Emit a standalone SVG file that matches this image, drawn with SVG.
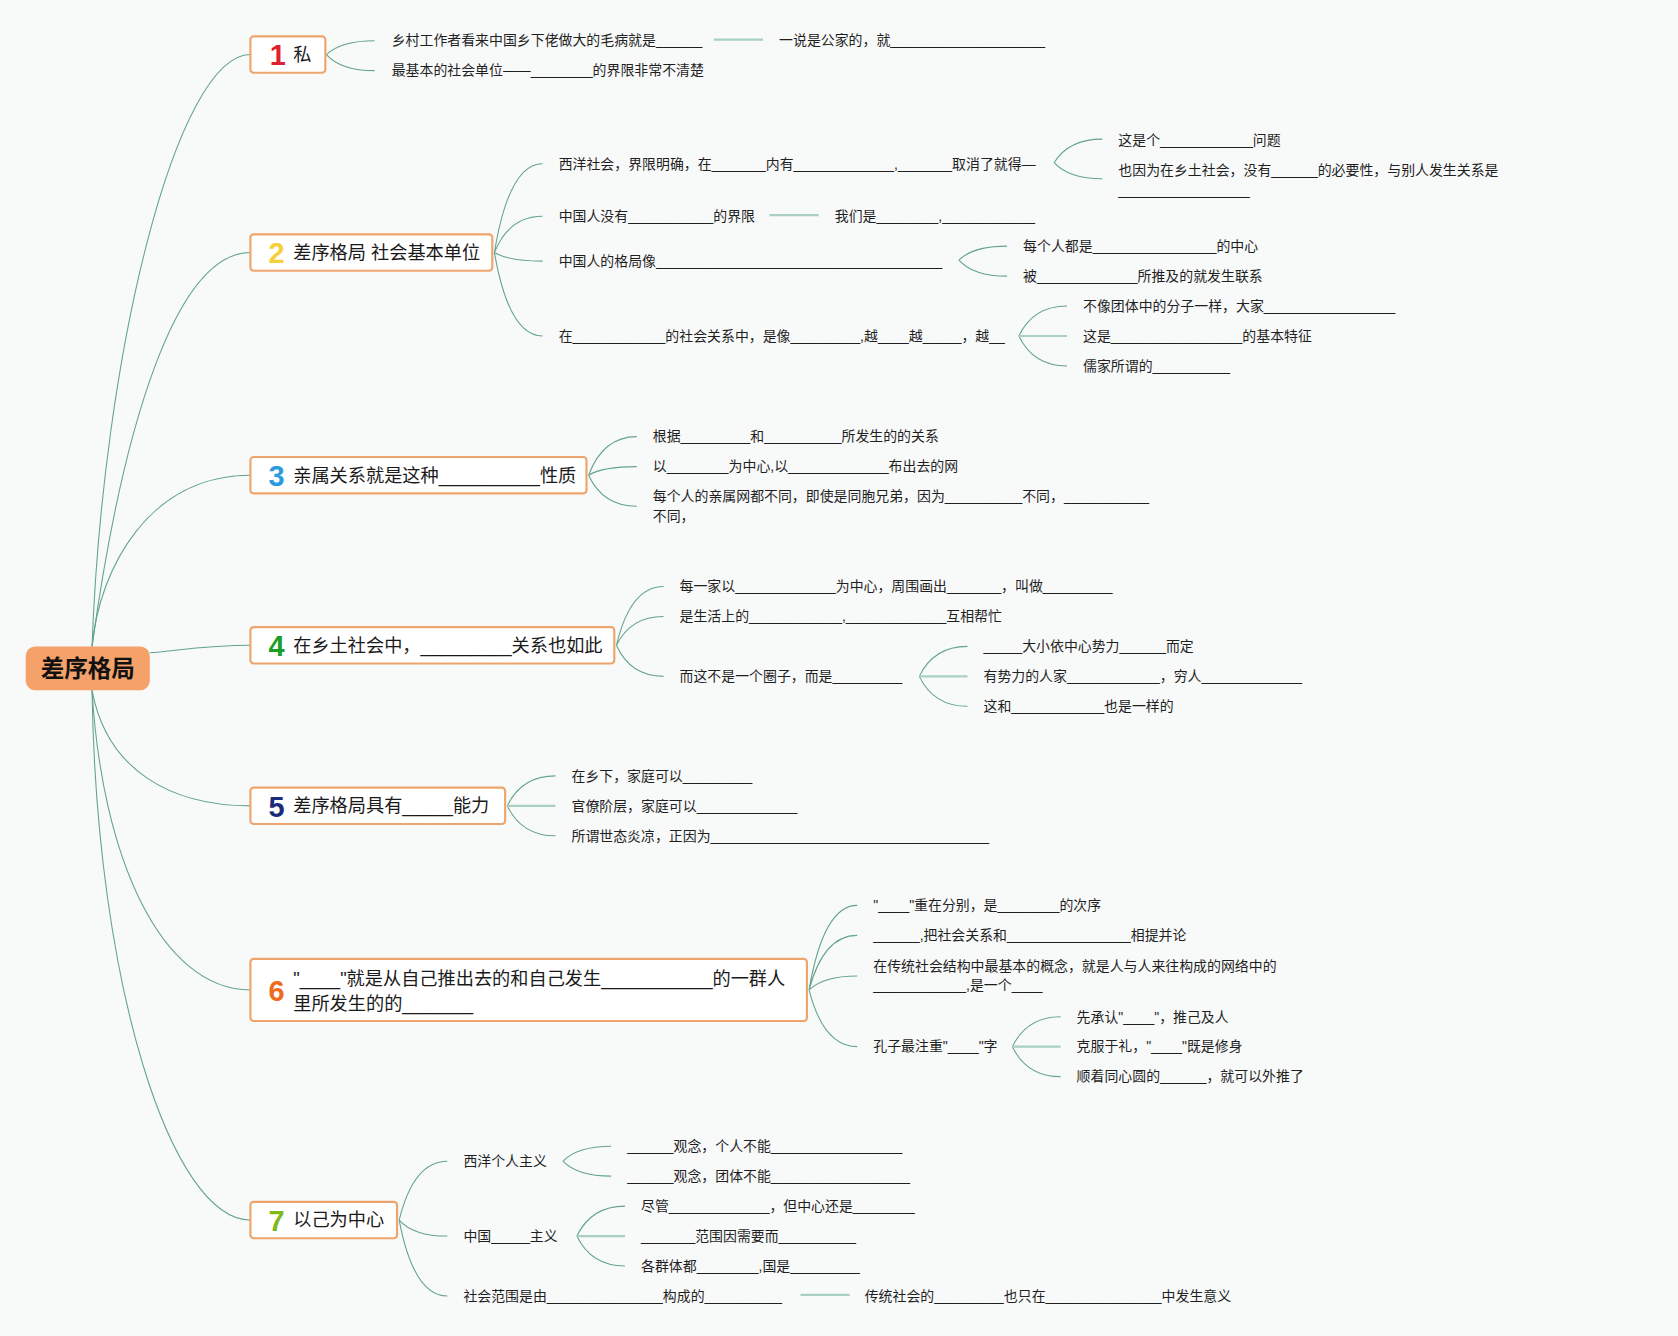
<svg xmlns="http://www.w3.org/2000/svg" width="1678" height="1336" viewBox="0 0 1678 1336">
<style>
.t{font-family:"Liberation Sans","Noto Sans CJK SC",sans-serif;font-size:13px;fill:#1f1f1f}
.h{font-family:"Liberation Sans","Noto Sans CJK SC",sans-serif;font-size:17px;fill:#1a1a1a}
.n{font-family:"Liberation Sans","Noto Sans CJK SC",sans-serif;font-weight:bold;font-size:27px}
.box{fill:#ffffff;stroke:#eea56d;stroke-width:2}
.c{fill:none;stroke:#62a48e;stroke-width:1}
.s{fill:none;stroke:#a9d0c2;stroke-width:2}
</style>
<rect width="1678" height="1336" fill="#f8f9f9"/>
<g transform="scale(1.0702)">
<g id="connectors">
<path class="c" d="M86,604 C96,330 165,51 234,51"/>
<path class="c" d="M86,604 C115,395 165,236 234,236"/>
<path class="c" d="M86,604 C93,530 140,444 234,444"/>
<path class="c" d="M140,610 C180,606 200,603 234,603"/>
<path class="c" d="M86,645 C100,720 160,753 234,753"/>
<path class="c" d="M86,645 C95,800 150,925 234,925"/>
<path class="c" d="M86,645 C90,920 160,1140 234,1140"/>
<path class="c" d="M305,51 Q318.5,38 350,38 M305,51 Q318.5,66 350,66"/>
<path class="s" d="M667,37 L713,37"/>
<path class="c" d="M462,236 Q475.5,153 507,153 M462,236 Q475.5,202 507,202 M462,236 Q475.5,244 507,244 M462,236 Q475.5,314 507,314"/>
<path class="c" d="M985,152 Q998.5,130 1030,130 M985,152 Q998.5,167 1030,167"/>
<path class="s" d="M719,201 L765,201"/>
<path class="c" d="M896,243 Q909.5,230 941,230 M896,243 Q909.5,258 941,258"/>
<path class="c" d="M952,314 Q965.5,286 997,286 M952,314 Q965.5,342 997,342"/>
<path class="s" d="M952,314 L997,314"/>
<path class="c" d="M550,444 Q563.5,408 595,408 M550,444 Q563.5,436 595,436 M550,444 Q563.5,473 595,473"/>
<path class="c" d="M576,603 Q589,548 620,548 M576,603 Q589,576 620,576 M576,603 Q589,632 620,632"/>
<path class="c" d="M859,632 Q872.5,604 904,604 M859,632 Q872.5,660 904,660"/>
<path class="s" d="M859,632 L904,632"/>
<path class="c" d="M474,753 Q487.5,725 519,725 M474,753 Q487.5,781 519,781"/>
<path class="s" d="M474,753 L519,753"/>
<path class="c" d="M756,925 Q769.5,846 801,846 M756,925 Q769.5,874 801,874 M756,925 Q769.5,912 801,912 M756,925 Q769.5,978 801,978"/>
<path class="c" d="M946,978 Q959.5,950 991,950 M946,978 Q959.5,1006 991,1006"/>
<path class="s" d="M946,978 L991,978"/>
<path class="c" d="M373,1140 Q386.5,1085 418,1085 M373,1140 Q386.5,1155 418,1155 M373,1140 Q386.5,1211 418,1211"/>
<path class="c" d="M526,1085 Q539.5,1071 571,1071 M526,1085 Q539.5,1099 571,1099"/>
<path class="c" d="M539,1155 Q552.5,1127 584,1127 M539,1155 Q552.5,1183 584,1183"/>
<path class="s" d="M539,1155 L584,1155"/>
<path class="s" d="M748,1210 L794,1210"/>
</g>
<g id="root">
<rect x="24" y="604" width="116" height="41" rx="9" fill="#f4a26a"/>
<text x="82" y="633" text-anchor="middle" style="font-family:'Liberation Sans','Noto Sans CJK SC',sans-serif;font-size:22px;font-weight:bold;fill:#111">差序格局</text>
</g>
<g id="n1">
<rect class="box" x="234" y="34" width="70" height="34" rx="3"/>
<text class="n" x="252" y="61" fill="#e0202f">1</text>
<text class="h" x="274" y="57">私</text>
</g>
<g id="n1-items">
<text class="t" x="366" y="42.5">乡村工作者看来中国乡下佬做大的毛病就是______</text>
<text class="t" x="728" y="42.5">一说是公家的，就____________________</text>
<text class="t" x="366" y="70.5">最基本的社会单位——________的界限非常不清楚</text>
</g>
<g id="n2">
<rect class="box" x="234" y="219" width="226" height="34" rx="3"/>
<text class="n" x="251" y="246" fill="#f6cf3a">2</text>
<text class="h" x="274" y="242">差序格局 社会基本单位</text>
</g>
<g id="n2-items">
<text class="t" x="522" y="157.5">西洋社会，界限明确，在_______内有_____________,_______取消了就得—</text>
<text class="t" x="1045" y="135.5">这是个____________问题</text>
<text class="t" x="1045" y="163.5">也因为在乡土社会，没有______的必要性，与别人发生关系是</text>
<text class="t" x="1045" y="182.5">_________________</text>
<text class="t" x="522" y="206.5">中国人没有___________的界限</text>
<text class="t" x="780" y="206.5">我们是________,____________</text>
<text class="t" x="522" y="248.5">中国人的格局像_____________________________________</text>
<text class="t" x="956" y="234.5">每个人都是________________的中心</text>
<text class="t" x="956" y="262.5">被_____________所推及的就发生联系</text>
<text class="t" x="522" y="318.5">在____________的社会关系中，是像_________,越____越_____，越__</text>
<text class="t" x="1012" y="290.5">不像团体中的分子一样，大家_________________</text>
<text class="t" x="1012" y="318.5">这是_________________的基本特征</text>
<text class="t" x="1012" y="346.5">儒家所谓的__________</text>
</g>
<g id="n3">
<rect class="box" x="234" y="427" width="314" height="34" rx="3"/>
<text class="n" x="251" y="454" fill="#2b9be0">3</text>
<text class="h" x="274" y="450">亲属关系就是这种__________性质</text>
</g>
<g id="n3-items">
<text class="t" x="610" y="412.5">根据_________和__________所发生的的关系</text>
<text class="t" x="610" y="440.5">以________为中心,以_____________布出去的网</text>
<text class="t" x="610" y="468.5">每个人的亲属网都不同，即使是同胞兄弟，因为__________不同，___________</text>
<text class="t" x="610" y="486.5">不同，</text>
</g>
<g id="n4">
<rect class="box" x="234" y="586" width="340" height="34" rx="3"/>
<text class="n" x="251" y="613" fill="#19a024">4</text>
<text class="h" x="274" y="609">在乡土社会中，_________关系也如此</text>
</g>
<g id="n4-items">
<text class="t" x="635" y="552.5">每一家以_____________为中心，周围画出_______，叫做_________</text>
<text class="t" x="635" y="580.5">是生活上的____________,_____________互相帮忙</text>
<text class="t" x="635" y="636.5">而这不是一个圈子，而是_________</text>
<text class="t" x="919" y="608.5">_____大小依中心势力______而定</text>
<text class="t" x="919" y="636.5">有势力的人家____________，穷人_____________</text>
<text class="t" x="919" y="664.5">这和____________也是一样的</text>
</g>
<g id="n5">
<rect class="box" x="234" y="736" width="238" height="34" rx="3"/>
<text class="n" x="251" y="763" fill="#1b2a7a">5</text>
<text class="h" x="274" y="759">差序格局具有_____能力</text>
</g>
<g id="n5-items">
<text class="t" x="534" y="729.5">在乡下，家庭可以_________</text>
<text class="t" x="534" y="757.5">官僚阶层，家庭可以_____________</text>
<text class="t" x="534" y="785.5">所谓世态炎凉，正因为____________________________________</text>
</g>
<g id="n6">
<rect class="box" x="234" y="896" width="520" height="58" rx="3"/>
<text class="n" x="251" y="935" fill="#f06a1b">6</text>
<text class="h" x="274" y="920">"____"就是从自己推出去的和自己发生___________的一群人</text>
<text class="h" x="274" y="944">里所发生的的_______</text>
</g>
<g id="n6-items">
<text class="t" x="816" y="850.5">"____"重在分别，是________的次序</text>
<text class="t" x="816" y="878.5">______,把社会关系和________________相提并论</text>
<text class="t" x="816" y="907.5">在传统社会结构中最基本的概念，就是人与人来往构成的网络中的</text>
<text class="t" x="816" y="925.5">____________,是一个____</text>
<text class="t" x="816" y="982.5">孔子最注重"____"字</text>
<text class="t" x="1006" y="954.5">先承认"____"，推己及人</text>
<text class="t" x="1006" y="982.5">克服于礼，"____"既是修身</text>
<text class="t" x="1006" y="1010.5">顺着同心圆的______，就可以外推了</text>
</g>
<g id="n7">
<rect class="box" x="234" y="1123" width="137" height="34" rx="3"/>
<text class="n" x="251" y="1150" fill="#7db919">7</text>
<text class="h" x="274" y="1146">以己为中心</text>
</g>
<g id="n7-items">
<text class="t" x="433" y="1089.5">西洋个人主义</text>
<text class="t" x="586" y="1075.5">______观念，个人不能_________________</text>
<text class="t" x="586" y="1103.5">______观念，团体不能__________________</text>
<text class="t" x="433" y="1159.5">中国_____主义</text>
<text class="t" x="599" y="1131.5">尽管_____________，但中心还是________</text>
<text class="t" x="599" y="1159.5">_______范围因需要而__________</text>
<text class="t" x="599" y="1187.5">各群体都________,国是_________</text>
<text class="t" x="433" y="1215.5">社会范围是由_______________构成的__________</text>
<text class="t" x="808" y="1215.5">传统社会的_________也只在_______________中发生意义</text>
</g>
</g>
</svg>
